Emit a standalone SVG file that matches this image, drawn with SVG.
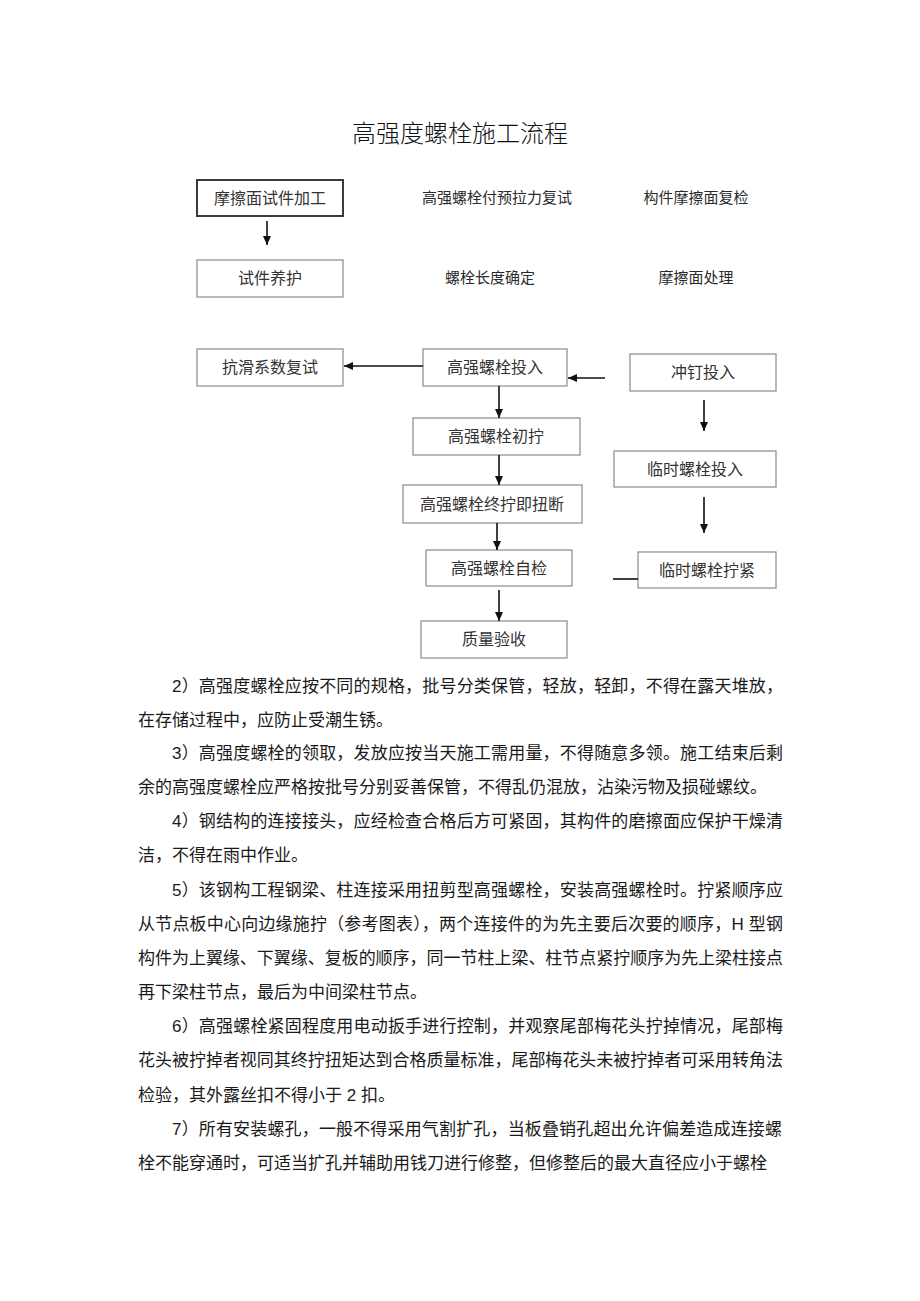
<svg xmlns="http://www.w3.org/2000/svg" width="920" height="1301" viewBox="0 0 920 1301">
<style>
.bg{fill:#ffffff}
.box{fill:#ffffff;stroke:#8a8a8a;stroke-width:1.2}
.box1{fill:#ffffff;stroke:#3a3a3a;stroke-width:2}
.bt{font-family:"Noto Sans CJK SC","Noto Sans CJK JP",sans-serif;font-size:16px;fill:#333333;text-anchor:middle}
.ft{font-family:"Noto Sans CJK SC",sans-serif;font-size:15px;fill:#2a2a2a;text-anchor:middle}
.title{font-family:"Noto Sans CJK SC",sans-serif;font-size:24px;fill:#111111;text-anchor:middle;font-weight:300}
.p{font-family:"Liberation Sans","Noto Sans CJK SC",sans-serif;font-size:17px;fill:#1a1a1a}
.ln{stroke:#111111;stroke-width:1.6;fill:none}
</style>
<defs>
<marker id="ah" markerWidth="10" markerHeight="10" refX="9" refY="5" orient="auto" markerUnits="userSpaceOnUse">
<path d="M0,1 L9,5 L0,9 Z" fill="#111111"/>
</marker>
</defs>
<rect class="bg" x="0" y="0" width="920" height="1301"/>
<text class="title" x="460" y="142">高强度螺栓施工流程</text>

<g id="n-mocamian-shijian">
<rect class="box1" x="197" y="180" width="146" height="36"/>
<text class="bt" x="270" y="204">摩擦面试件加工</text>
</g>
<g id="n-shijian-yanghu">
<rect class="box" x="197" y="260" width="146" height="37"/>
<text class="bt" x="270" y="284">试件养护</text>
</g>
<g id="t-yulali">
<text class="ft" x="497" y="203">高强螺栓付预拉力复试</text>
</g>
<g id="t-goujian">
<text class="ft" x="696" y="203">构件摩擦面复检</text>
</g>
<g id="t-changdu">
<text class="ft" x="490" y="283">螺栓长度确定</text>
</g>
<g id="t-chuli">
<text class="ft" x="696" y="283">摩擦面处理</text>
</g>

<g id="n-kanghua">
<rect class="box" x="197" y="349" width="146" height="37"/>
<text class="bt" x="270" y="373">抗滑系数复试</text>
</g>
<g id="n-touru">
<rect class="box" x="423" y="349" width="144" height="37"/>
<text class="bt" x="495" y="373">高强螺栓投入</text>
</g>
<g id="n-chongding">
<rect class="box" x="630" y="354" width="146" height="37"/>
<text class="bt" x="703" y="378">冲钉投入</text>
</g>
<g id="n-chuning">
<rect class="box" x="413" y="418" width="167" height="37"/>
<text class="bt" x="496" y="442">高强螺栓初拧</text>
</g>
<g id="n-linshi-touru">
<rect class="box" x="614" y="451" width="162" height="36"/>
<text class="bt" x="695" y="475">临时螺栓投入</text>
</g>
<g id="n-zhongning">
<rect class="box" x="403" y="485" width="179" height="38"/>
<text class="bt" x="492" y="510">高强螺栓终拧即扭断</text>
</g>
<g id="n-zijian">
<rect class="box" x="426" y="550" width="146" height="36"/>
<text class="bt" x="499" y="574">高强螺栓自检</text>
</g>
<g id="n-linshi-ningjin">
<rect class="box" x="638" y="552" width="138" height="36"/>
<text class="bt" x="707" y="576">临时螺栓拧紧</text>
</g>
<g id="n-yanshou">
<rect class="box" x="421" y="621" width="146" height="37"/>
<text class="bt" x="494" y="645">质量验收</text>
</g>

<g id="connectors">
<line class="ln" x1="267" y1="221" x2="267" y2="245" marker-end="url(#ah)"/>
<line class="ln" x1="423" y1="366" x2="344" y2="366" marker-end="url(#ah)"/>
<line class="ln" x1="605" y1="378" x2="568" y2="378" marker-end="url(#ah)"/>
<line class="ln" x1="704" y1="400" x2="704" y2="431" marker-end="url(#ah)"/>
<line class="ln" x1="704" y1="497" x2="704" y2="533" marker-end="url(#ah)"/>
<line class="ln" x1="613" y1="579" x2="638" y2="579"/>
<line class="ln" x1="499" y1="386" x2="499" y2="418" marker-end="url(#ah)"/>
<line class="ln" x1="499" y1="455" x2="499" y2="485" marker-end="url(#ah)"/>
<line class="ln" x1="497" y1="523" x2="497" y2="550" marker-end="url(#ah)"/>
<line class="ln" x1="499" y1="590" x2="499" y2="621" marker-end="url(#ah)"/>
</g>

<g id="body-text">
<text class="p" x="172" y="692" textLength="611" lengthAdjust="spacing">2）高强度螺栓应按不同的规格，批号分类保管，轻放，轻卸，不得在露天堆放，</text>
<text class="p" x="138" y="726">在存储过程中，应防止受潮生锈。</text>
<text class="p" x="172" y="759" textLength="611" lengthAdjust="spacing">3）高强度螺栓的领取，发放应按当天施工需用量，不得随意多领。施工结束后剩</text>
<text class="p" x="138" y="793">余的高强度螺栓应严格按批号分别妥善保管，不得乱仍混放，沾染污物及损碰螺纹。</text>
<text class="p" x="172" y="827" textLength="611" lengthAdjust="spacing">4）钢结构的连接接头，应经检查合格后方可紧固，其构件的磨擦面应保护干燥清</text>
<text class="p" x="138" y="861">洁，不得在雨中作业。</text>
<text class="p" x="172" y="896" textLength="611" lengthAdjust="spacing">5）该钢构工程钢梁、柱连接采用扭剪型高强螺栓，安装高强螺栓时。拧紧顺序应</text>
<text class="p" x="138" y="930" textLength="645" lengthAdjust="spacing">从节点板中心向边缘施拧（参考图表），两个连接件的为先主要后次要的顺序，H 型钢</text>
<text class="p" x="138" y="964" textLength="645" lengthAdjust="spacing">构件为上翼缘、下翼缘、复板的顺序，同一节柱上梁、柱节点紧拧顺序为先上梁柱接点</text>
<text class="p" x="138" y="998">再下梁柱节点，最后为中间梁柱节点。</text>
<text class="p" x="172" y="1032" textLength="611" lengthAdjust="spacing">6）高强螺栓紧固程度用电动扳手进行控制，并观察尾部梅花头拧掉情况，尾部梅</text>
<text class="p" x="138" y="1066" textLength="645" lengthAdjust="spacing">花头被拧掉者视同其终拧扭矩达到合格质量标准，尾部梅花头未被拧掉者可采用转角法</text>
<text class="p" x="138" y="1101">检验，其外露丝扣不得小于 2 扣。</text>
<text class="p" x="172" y="1135" textLength="610" lengthAdjust="spacing">7）所有安装螺孔，一般不得采用气割扩孔，当板叠销孔超出允许偏差造成连接螺</text>
<text class="p" x="138" y="1169">栓不能穿通时，可适当扩孔并辅助用钱刀进行修整，但修整后的最大直径应小于螺栓</text>
</g>
</svg>
